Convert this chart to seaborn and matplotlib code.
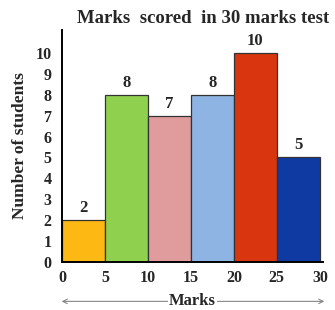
import matplotlib
matplotlib.use("Agg")
import matplotlib.pyplot as plt
import seaborn as sns
import pandas as pd

# data
edges = [0, 5, 10, 15, 20, 25, 30]
classes = ["0-5", "5-10", "10-15", "15-20", "20-25", "25-30"]
mids = [2.5, 7.5, 12.5, 17.5, 22.5, 27.5]
students = [2, 8, 7, 8, 10, 5]
colors = ["#FDB813", "#8FD14F", "#E09C9C", "#8DB4E2", "#D9360F", "#0E3AA2"]

df = pd.DataFrame({"mid": mids, "students": students, "cls": classes})

sns.set_style("white")
plt.rcParams["font.family"] = ["Liberation Serif", "DejaVu Serif"]
plt.rcParams["font.weight"] = "bold"

fig = plt.figure(figsize=(3.35, 3.10), dpi=100)
ax = fig.add_axes([0.185, 0.155, 0.78, 0.748])

sns.barplot(data=df, x="mid", y="students", hue="cls",
            palette=dict(zip(classes, colors)), native_scale=True,
            width=1, dodge=False, edgecolor="#333333", linewidth=0.9,
            saturation=1, legend=False, ax=ax)

for m, s in zip(mids, students):
    ax.text(m, s + 0.2, str(s), ha="center", va="bottom",
            fontsize=12, fontweight="bold")

ax.set_xlim(0, 30.4)
ax.set_ylim(0, 11.1)
ax.set_xticks(edges)
ax.set_xticklabels([str(e) for e in edges], fontsize=11.5, fontweight="bold")
ax.set_yticks(range(0, 11))
ax.set_yticklabels([str(i) for i in range(0, 11)], fontsize=11.5, fontweight="bold")
ax.tick_params(axis="y", direction="inout", length=7, width=1.2, pad=4)
ax.tick_params(axis="x", length=0, pad=6)

for side in ["top", "right"]:
    ax.spines[side].set_visible(False)
for side in ["left", "bottom"]:
    ax.spines[side].set_color("black")
    ax.spines[side].set_linewidth(1.4)

ax.set_xlabel("")
ax.set_ylabel("Number of students", fontsize=12.5, fontweight="bold", labelpad=5)
ax.set_title("Marks  scored  in 30 marks test", fontsize=13.5,
             fontweight="bold", pad=5, x=0.54)

# Marks label with double arrow
ax.annotate("", xy=(-0.012, -0.17), xycoords="axes fraction",
            xytext=(1.015, -0.17), textcoords="axes fraction",
            arrowprops=dict(arrowstyle="<->", color="#888888", lw=0.8,
                            mutation_scale=8))
ax.text(0.5, -0.17, "Marks", transform=ax.transAxes, ha="center",
        va="center", fontsize=12, fontweight="bold",
        bbox=dict(facecolor="white", edgecolor="none", pad=1))

plt.savefig("out.png", dpi=100)
